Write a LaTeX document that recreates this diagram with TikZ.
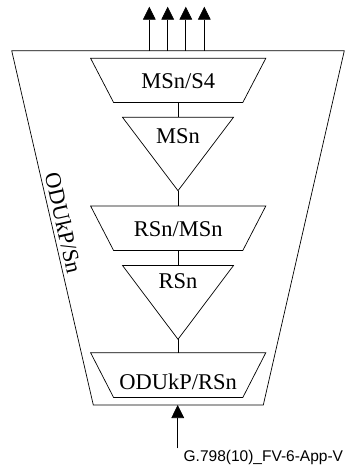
\documentclass[tikz,border=0pt]{standalone}
\usepackage{fontspec}
\setmainfont{Liberation Serif}
\newfontfamily\capfont{Liberation Sans}
\usetikzlibrary{arrows.meta}
\begin{document}
\begin{tikzpicture}[x=1pt,y=-1pt,line width=0.7pt,
  lbl/.style={font=\fontsize{22.5}{22.5}\selectfont,inner sep=0pt,anchor=base},
  uparrow/.style={-{Triangle[width=12.7pt,length=13pt]}},
  capstyle/.style={font=\capfont\fontsize{15.5}{15.5}\selectfont,inner sep=0pt,anchor=base west}]
\useasboundingbox (0,0) rectangle (349,465);
% outer trapezoid
\draw (11.7,50.7) -- (344.3,50.7) -- (263.3,405) -- (93.3,405) -- cycle;
% inner trapezoids
\draw (90.6,58.3) -- (265.8,58.3) -- (242.8,102.5) -- (113.6,102.5) -- cycle;
\draw (90.6,206) -- (265.8,206) -- (242.8,250.5) -- (113.6,250.5) -- cycle;
\draw (90.6,352.7) -- (265.8,352.7) -- (242.8,397.5) -- (113.6,397.5) -- cycle;
% triangles
\draw (122.5,117.3) -- (233.5,117.3) -- (178,190.7) -- cycle;
\draw (122.5,265.5) -- (233.5,265.5) -- (178,339.3) -- cycle;
% labels
\node[lbl] (msS4) at (178.2,88.3) {MSn/S4};
\node[lbl] (msn) at (178,143.3) {MSn};
\node[lbl] (rsms) at (178.2,236) {RSn/MSn};
\node[lbl] (rsn) at (178,288) {RSn};
\node[lbl] (odurs) at (178.2,389) {ODUkP/RSn};
\node[lbl,anchor=center,rotate=-77.3] (odusn) at (63.5,223) {ODUkP/Sn};
\node[capstyle] (cap) at (183.3,461) {G.798(10)\_FV-6-App-V};
% connection points
\coordinate (t1b) at (178,102.5);
\coordinate (tr1t) at (178,117.3);
\coordinate (tr1a) at (178,190.7);
\coordinate (t2t) at (178,206);
\coordinate (t2b) at (178,250.5);
\coordinate (tr2t) at (178,265.5);
\coordinate (tr2a) at (178,339.3);
\coordinate (t3t) at (178,352.7);
\draw (t1b) -- (tr1t);
\draw (tr1a) -- (t2t);
\draw (t2b) -- (tr2t);
\draw (tr2a) -- (t3t);
% top arrows
\foreach \i/\x in {1/149.3,2/167.7,3/185.8,4/204.3}{
  \coordinate (ob\i) at (\x,50.7);
  \coordinate (oa\i) at (\x,6.7);
  \draw[uparrow] (ob\i) -- (oa\i);
}
% bottom arrow
\coordinate (inb) at (177.7,448.3);
\coordinate (outb) at (177.7,405);
\draw[uparrow] (inb) -- (outb);
\end{tikzpicture}
\end{document}
